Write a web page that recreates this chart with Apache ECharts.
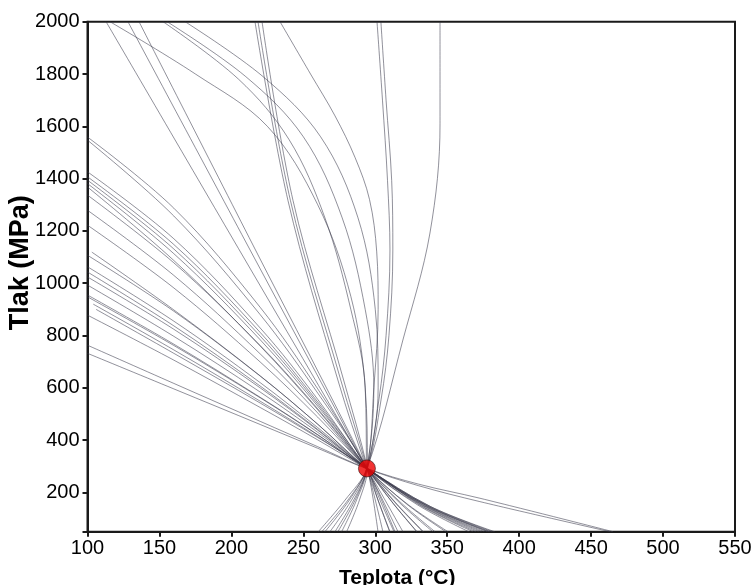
<!DOCTYPE html>
<html>
<head>
<meta charset="utf-8">
<script src="https://cdn.jsdelivr.net/npm/echarts@6/dist/echarts.min.js"></script>
<style>
  html, body { margin: 0; padding: 0; background: #fff; }
  #chart { width: 756px; height: 585px; }
</style>
</head>
<body>
<div id="chart"></div>
<script>
// Isochores [T (°C), P (MPa)] – lines fanning in from the left edge
const leftIsochores = [
  [[100,1559],[160,1287],[220,908],[260,596],[293.6,296],[303.5,168],[313,50]],
  [[100,1547],[160,1257],[220,880],[260,580],[294,294],[302,169],[310,50]],
  [[100,1426],[160,1170],[220,829],[260,556],[293.2,298],[311.5,165],[329,50]],
  [[100,1407],[160,1148],[220,812],[260,546],[294.5,291],[311.4,165],[328.8,50]],
  [[100,1394],[160,1131],[220,798],[260,538],[293.8,293],[313.5,163],[333,50]],
  [[100,1381],[160,1113],[220,784],[260,530],[294.8,289],[313.8,163],[333.5,50]],
  [[100,1368],[160,1087],[220,760],[260,516],[293.5,295],[318,160],[341.5,50]],
  [[100,1337],[160,1078],[220,762],[260,520],[294.6,290],[317,160],[340,50]],
  [[100,1279],[160,1030],[220,730],[260,504],[294,292],[322,157],[350.5,50]],
  [[100,1222],[160,982],[220,699],[260,488],[293.6,295],[321.5,157],[349,50]],
  [[103,1119],[160,898],[220,646],[260,461],[294.2,292],[329.5,152],[365,50]],
  [[100,1107],[160,893],[220,645],[260,461],[293.5,294],[331,151],[368,50]],
  [[100,1063],[160,855],[220,620],[260,448],[294.9,290],[333,150],[372,50]],
  [[100,1043],[160,837],[220,607],[260,441],[294.2,291],[334,149],[374,50]],
  [[100,1024],[160,824],[220,600],[260,438],[293.8,293],[335,148],[376,50]],
  [[100,993],[160,797],[220,584],[260,430],[294.5,292],[336,148],[378,50]],
  [[100,955],[160,767],[220,564],[260,421],[294,290],[337,147],[380,50]],
  [[100,948],[160,762],[220,562],[260,420],[293.7,294],[338,147],[381.5,50]],
  [[104,920],[160,745],[220,549],[260,413],[294.3,291],[338.5,146],[383,50]],
  [[106,900],[160,732],[220,542],[260,410],[294.8,292],[332,150],[370,50]],
  [[100,878],[160,706],[220,525],[260,401],[293.9,290],[336.5,147],[379,50]],
  [[100,763],[160,617],[220,472],[260,375],[294.2,292],[330,232],[372.7,178],[465.2,50]],
  [[100,732],[160,596],[220,460],[260,369],[294.5,290],[330,226],[372.7,165],[463.1,50]]
];

// Steep isochores entering from the top edge
const steepIsochores = [
  [[112.9,2000],[205,1132],[294.2,292],[319.2,50]],
  [[128.1,2000],[210,1158],[294,293],[315.8,50]],
  [[135.8,2000],[215,1146],[294.4,291],[313.7,50]],
  [[216.4,2000],[239.3,1317],[274,630],[294,292],[310.2,50]],
  [[218.5,2000],[241,1317],[276,630],[294.3,293],[305.3,50]],
  [[221.3,2000],[242.8,1317],[278,630],[294.6,291],[301.9,50]]
];

// Curved isochores bending back through the trapping point
const arcIsochores = [
  [[115.6,2000],[175,1800],[225,1600],[260,1300],[283,950],[293,600],[294.5,293],[289,171],[280.1,50]],
  [[152.5,2000],[205,1780],[240,1550],[265,1250],[283,900],[293,600],[293.8,292],[287,171],[276.6,50]],
  [[155.3,2000],[210,1790],[250,1560],[277,1250],[293,900],[299,600],[294.2,293],[286,171],[274,50]],
  [[167.8,2000],[222,1790],[262,1560],[288,1250],[300,900],[302,600],[294.6,291],[285,171],[272,50]],
  [[233.8,2000],[255,1800],[272,1640],[286,1480],[296,1320],[301,1120],[302,900],[299,600],[294.2,292],[283.5,171],[268.5,50]],
  [[301.2,2000],[305,1700],[308.5,1393],[310.2,1127],[307.5,800],[302.5,554],[294,292],[282,171],[265,50]],
  [[303.9,2000],[307.5,1700],[311.4,1393],[312.2,1127],[309.5,800],[304,554],[294.4,293],[281,171],[262.8,50]],
  [[345,2000],[345,1610],[338,1192],[319.2,783],[294.2,291],[279,171],[260.4,50]]
];

// Trapping conditions (intersection of the isochores)
const trapPoint = [294.2, 292];

// Axis ticks
const xTickStep = 50;
const yTickLabels = [200, 400, 600, 800, 1000, 1200, 1400, 1600, 1800, 2000];
const yTickMarks = [50].concat(yTickLabels);

const FONT = 'Liberation Sans, Arial, Helvetica, sans-serif';
const lineColor = '#3a3a4c';

const isoSeries = leftIsochores.concat(steepIsochores, arcIsochores).map(function (pts) {
  return {
    type: 'line',
    data: pts,
    showSymbol: false,
    symbol: 'none',
    smooth: 0.35,
    silent: true,
    clip: true,
    lineStyle: { color: lineColor, width: 0.7, opacity: 0.8 },
    z: 2
  };
});

const chart = echarts.init(document.getElementById('chart'), null, { renderer: 'canvas' });
chart.setOption({
  animation: false,
  backgroundColor: '#ffffff',
  grid: {
    left: 87.5, right: 21, top: 21.7, bottom: 53.3,
    outerBoundsMode: 'none', containLabel: false,
    show: true, borderColor: '#1a1a1a', borderWidth: 2, backgroundColor: 'transparent'
  },
  xAxis: {
    type: 'value', min: 100, max: 550, interval: xTickStep,
    name: 'Teplota (°C)', nameLocation: 'middle', nameGap: 36, nameMoveOverlap: false,
    nameTextStyle: { fontFamily: FONT, fontSize: 21, fontWeight: 'bold', color: '#000', padding: [0, 28, 0, 0] },
    axisLine: { onZero: false, lineStyle: { color: '#1a1a1a', width: 2 } },
    axisTick: { length: 5, lineStyle: { color: '#1a1a1a', width: 2 } },
    axisLabel: { fontFamily: FONT, fontSize: 20, color: '#000', margin: 7, formatter: function (v) { return String(v); } },
    splitLine: { show: false }
  },
  yAxis: {
    type: 'value', min: 50, max: 2000,
    name: 'Tlak (MPa)', nameLocation: 'middle', nameGap: 53, nameMoveOverlap: false,
    nameTextStyle: { fontFamily: FONT, fontSize: 27, fontWeight: 'bold', color: '#000', padding: [0, 0, 0, 28] },
    axisLine: { onZero: false, lineStyle: { color: '#1a1a1a', width: 2 } },
    axisTick: { length: 5, customValues: yTickMarks, lineStyle: { color: '#1a1a1a', width: 2 } },
    axisLabel: { fontFamily: FONT, fontSize: 20, color: '#000', margin: 8, customValues: yTickLabels, formatter: function (v) { return String(v); } },
    splitLine: { show: false }
  },
  series: isoSeries.concat([{
    type: 'scatter',
    data: [trapPoint],
    symbol: 'circle',
    symbolSize: 17,
    silent: true,
    itemStyle: { color: '#ee0000', borderColor: '#3a1010', borderWidth: 0.8 },
    z: 10
  }])
});
</script>
</body>
</html>
